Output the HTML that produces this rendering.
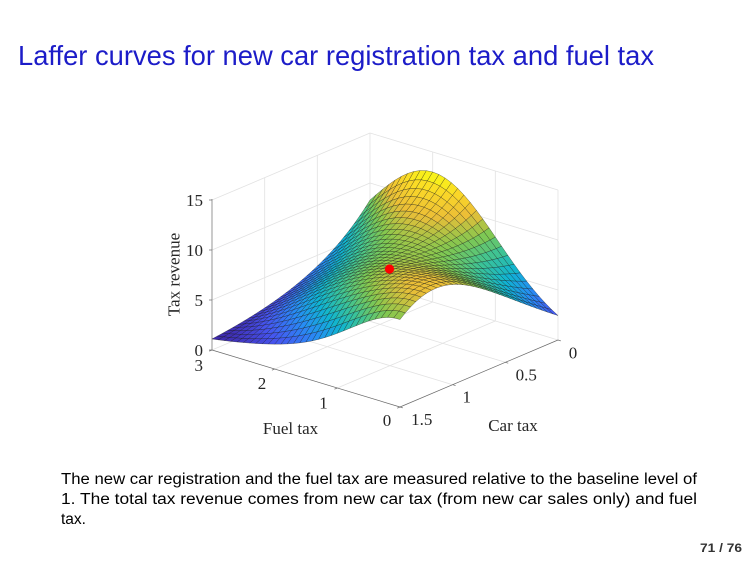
<!DOCTYPE html>
<html>
<head>
<meta charset="utf-8">
<style>
html,body{margin:0;padding:0;background:#fff;}
svg{display:block;}
.tk{font-family:"Liberation Serif",serif;font-size:17px;fill:#262626;}
.gr{stroke:#e2e2e2;stroke-width:0.8;fill:none;}
.ax{stroke:#6a6a6a;stroke-width:0.7;fill:none;}
</style>
</head>
<body>
<svg id="s" width="756" height="567" viewBox="0 0 756 567" xmlns="http://www.w3.org/2000/svg">
<rect width="756" height="567" fill="#fff"/>

<!-- Title -->
<text x="18" y="65" font-family="Liberation Sans, sans-serif" font-size="28" fill="#1c1cc8" textLength="636" lengthAdjust="spacingAndGlyphs">Laffer curves for new car registration tax and fuel tax</text>

<!-- Gridlines -->
<g class="gr">
<line x1="212" y1="350" x2="370" y2="283"/>
<line x1="212" y1="300" x2="370" y2="233"/>
<line x1="212" y1="250" x2="370" y2="183"/>
<line x1="212" y1="200" x2="370" y2="133"/>
<line x1="370" y1="283" x2="370" y2="133"/>
<line x1="317.3" y1="305.3" x2="317.3" y2="155.3"/>
<line x1="264.7" y1="327.7" x2="264.7" y2="177.7"/>
<line x1="370" y1="283" x2="558" y2="340"/>
<line x1="370" y1="233" x2="558" y2="290"/>
<line x1="370" y1="183" x2="558" y2="240"/>
<line x1="370" y1="133" x2="558" y2="190"/>
<line x1="558" y1="340" x2="558" y2="190"/>
<line x1="495.3" y1="321" x2="495.3" y2="171"/>
<line x1="432.7" y1="302" x2="432.7" y2="152"/>
<line x1="505.3" y1="362.3" x2="317.3" y2="305.3"/>
<line x1="452.7" y1="384.7" x2="264.7" y2="327.7"/>
<line x1="495.3" y1="321" x2="337.3" y2="388"/>
<line x1="432.7" y1="302" x2="274.7" y2="369"/>
</g>

<!-- Axes -->
<g class="ax">
<line x1="212" y1="350" x2="212" y2="199"/>
<line x1="212" y1="350" x2="400" y2="407"/>
<line x1="400" y1="407" x2="558" y2="340"/>
<line x1="212" y1="350" x2="209" y2="350"/>
<line x1="212" y1="300" x2="209" y2="300"/>
<line x1="212" y1="250" x2="209" y2="250"/>
<line x1="212" y1="200" x2="209" y2="200"/>
<line x1="212" y1="350" x2="209.2" y2="351.2"/>
<line x1="274.7" y1="369" x2="271.9" y2="370.2"/>
<line x1="337.3" y1="388" x2="334.5" y2="389.2"/>
<line x1="400" y1="407" x2="397.2" y2="408.2"/>
<line x1="400" y1="407" x2="402.9" y2="407.9"/>
<line x1="452.7" y1="384.7" x2="455.6" y2="385.6"/>
<line x1="505.3" y1="362.3" x2="508.2" y2="363.2"/>
<line x1="558" y1="340" x2="560.9" y2="340.9"/>
</g>

<!-- Surface -->
<g id="surf"></g>
<circle cx="389.5" cy="269" r="4.6" fill="#ff0000"/>

<!-- Tick labels -->
<g class="tk">
<text x="203" y="206" text-anchor="end">15</text>
<text x="203" y="256" text-anchor="end">10</text>
<text x="203" y="306" text-anchor="end">5</text>
<text x="203" y="356" text-anchor="end">0</text>
<text x="203" y="371" text-anchor="end">3</text>
<text x="262" y="389" text-anchor="middle">2</text>
<text x="323.5" y="408.5" text-anchor="middle">1</text>
<text x="387" y="426" text-anchor="middle">0</text>
<text x="421.7" y="425" text-anchor="middle">1.5</text>
<text x="466.7" y="402.5" text-anchor="middle">1</text>
<text x="526.3" y="380.5" text-anchor="middle">0.5</text>
<text x="573" y="358.5" text-anchor="middle">0</text>
<text x="290.5" y="434" text-anchor="middle">Fuel tax</text>
<text x="513" y="431" text-anchor="middle">Car tax</text>
<text x="179.5" y="274.5" text-anchor="middle" transform="rotate(-90 179.5 274.5)">Tax revenue</text>
</g>

<!-- Body text -->
<g font-family="Liberation Sans, sans-serif" font-size="15.5" fill="#000">
<text x="61" y="484" textLength="636" lengthAdjust="spacingAndGlyphs">The new car registration and the fuel tax are measured relative to the baseline level of</text>
<text x="61" y="504" textLength="636" lengthAdjust="spacingAndGlyphs">1.  The total tax revenue comes from new car tax (from new car sales only) and fuel</text>
<text x="61" y="524">tax.</text>
</g>

<!-- Page number -->
<text x="742" y="552" text-anchor="end" font-family="Liberation Sans, sans-serif" font-size="11.5" font-weight="bold" fill="#333" textLength="42" lengthAdjust="spacingAndGlyphs">71 / 76</text>
</svg>

<script>
(function(){
  var NS="http://www.w3.org/2000/svg";
  function Z(f,c){
    var d=f-2;
    var g=(f<2)?Math.exp(-d*d/2.2):Math.exp(-d*d/2.14);
    var lam=0.62+(3-f)*0.105;
    var k=Math.exp(-c/lam);
    var car=10*c*Math.exp(-Math.pow(c/1.669,4.23));
    var f1=1.186+1.05*Math.tanh(2.2*(1.5-c));
    var m=Math.exp(-Math.pow(f/f1,1.8))*(1-Math.pow(f/3,4));
    return 0.4+12.6*g*k+car*m;
  }
  function P(f,c,z){
    return [400-62.67*f+(1.5-c)*105.33, 407-19*f-(1.5-c)*44.67-10*z];
  }
  var N=30, Zs=[], zmin=1e9, zmax=-1e9, i, j;
  for(i=0;i<=N;i++){
    Zs[i]=[];
    for(j=0;j<=N;j++){
      var f=3*i/N, c=1.5*j/N, z=Z(f,c);
      Zs[i][j]=z;
      if(z<zmin)zmin=z;
      if(z>zmax)zmax=z;
    }
  }
  var stops=[0,0.13,0.27,0.40,0.52,0.64,0.77,0.89,1.0];
  var cm=[[62,38,168],[70,85,240],[40,140,245],[15,180,210],[60,195,150],[130,200,80],[235,190,55],[250,215,40],[249,251,21]];
  function col(t){
    t=Math.max(0,Math.min(1,t));
    var a=0;
    while(a<stops.length-2 && t>stops[a+1]) a++;
    var u=(t-stops[a])/(stops[a+1]-stops[a]);
    var A=cm[a],B=cm[a+1];
    return "rgb("+Math.round(A[0]+(B[0]-A[0])*u)+","+Math.round(A[1]+(B[1]-A[1])*u)+","+Math.round(A[2]+(B[2]-A[2])*u)+")";
  }
  var quads=[];
  for(i=0;i<N;i++){
    for(j=0;j<N;j++){
      var f0=3*i/N,f1=3*(i+1)/N,c0=1.5*j/N,c1=1.5*(j+1)/N;
      var za=Zs[i][j],zb=Zs[i+1][j],zc=Zs[i+1][j+1],zd=Zs[i][j+1];
      var p1=P(f0,c0,za),p2=P(f1,c0,zb),p3=P(f1,c1,zc),p4=P(f0,c1,zd);
      var fc=(f0+f1)/2,cc=(c0+c1)/2;
      var depth=19*fc+44.67*(1.5-cc);
      var zav=(za+zb+zc+zd)/4;
      quads.push({d:depth,pts:p1[0].toFixed(2)+","+p1[1].toFixed(2)+" "+p2[0].toFixed(2)+","+p2[1].toFixed(2)+" "+p3[0].toFixed(2)+","+p3[1].toFixed(2)+" "+p4[0].toFixed(2)+","+p4[1].toFixed(2),c:col((zav-zmin)/(zmax-zmin))});
    }
  }
  quads.sort(function(a,b){return b.d-a.d;});
  var g=document.getElementById("surf");
  for(i=0;i<quads.length;i++){
    var q=quads[i];
    var el=document.createElementNS(NS,"polygon");
    el.setAttribute("points",q.pts);
    el.setAttribute("fill",q.c);
    el.setAttribute("stroke","#111");
    el.setAttribute("stroke-opacity","0.68");
    el.setAttribute("stroke-width","0.42");
    el.setAttribute("stroke-linejoin","round");
    g.appendChild(el);
  }
})();
</script>
</body>
</html>
